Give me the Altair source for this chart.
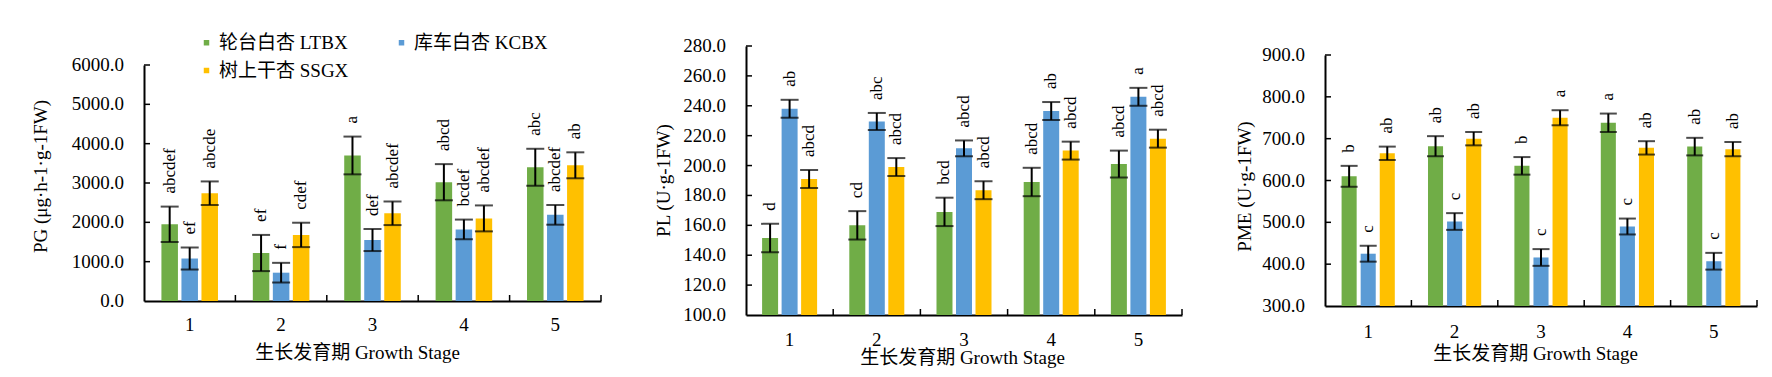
import altair as alt
import pandas as pd

# ---------------- data ----------------
stages = ["1", "2", "3", "4", "5"]
series = ["轮台白杏 LTBX", "库车白杏 KCBX", "树上干杏 SSGX"]
colors = ["#70AD47", "#5B9BD5", "#FFC000"]

# PG (μg·h-1·g-1FW)
pg_ltbx = [1950, 1220, 3700, 3020, 3400]
pg_kcbx = [1080, 720, 1550, 1820, 2190]
pg_ssgx = [2740, 1680, 2230, 2100, 3450]
pg_ltbx_err = [450, 460, 480, 460, 470]
pg_kcbx_err = [280, 250, 280, 250, 250]
pg_ssgx_err = [300, 310, 300, 330, 330]
pg_ltbx_sig = ["abcdef", "ef", "a", "abcd", "abc"]
pg_kcbx_sig = ["ef", "f", "def", "bcdef", "abcdef"]
pg_ssgx_sig = ["abcde", "cdef", "abcdef", "abcdef", "ab"]
pg_ticks = [0, 1000, 2000, 3000, 4000, 5000, 6000]

# PL (U·g-1FW)
pl_ltbx = [151.5, 160, 169, 189, 201]
pl_kcbx = [238, 229.5, 211.5, 236.5, 246]
pl_ssgx = [191, 199, 183.5, 210, 218]
pl_ltbx_err = [9.5, 9.5, 9.5, 9.5, 9]
pl_kcbx_err = [6, 5.7, 5.3, 6, 6]
pl_ssgx_err = [6, 6, 6, 6, 6]
pl_ltbx_sig = ["d", "cd", "bcd", "abcd", "abcd"]
pl_kcbx_sig = ["ab", "abc", "abcd", "ab", "a"]
pl_ssgx_sig = ["abcd", "abcd", "abcd", "abcd", "abcd"]
pl_ticks = [100, 120, 140, 160, 180, 200, 220, 240, 260, 280]

# PME (U·g-1FW)
pme_ltbx = [610, 682, 635, 738, 681]
pme_kcbx = [425, 502, 416, 490, 407]
pme_ssgx = [665, 700, 750, 678, 675]
pme_ltbx_err = [25, 24, 21, 22, 21]
pme_kcbx_err = [19, 20, 20, 19, 20]
pme_ssgx_err = [16, 16, 18, 16, 17]
pme_ltbx_sig = ["b", "ab", "b", "a", "ab"]
pme_kcbx_sig = ["c", "c", "c", "c", "c"]
pme_ssgx_sig = ["ab", "ab", "a", "ab", "ab"]
pme_ticks = [300, 400, 500, 600, 700, 800, 900]

x_title = "生长发育期  Growth Stage"
SERIF = "Times New Roman, Liberation Serif, Noto Sans CJK SC"
H = 269  # common plot-area height; each y scale uses its own pixel range inside it


def make_df(means, errs, sigs):
    rows = []
    for s, m, e, g in zip(series, means, errs, sigs):
        for st, mv, ev, gv in zip(stages, m, e, g):
            rows.append({"stage": st, "series": s, "mean": mv,
                         "lo": mv - ev, "hi": mv + ev, "sig": gv})
    return pd.DataFrame(rows)


def panel(df, ticks, ytitle, W, yrange, pin, pout, cap, ytx, yty, xtx, xty, xlp,
          legend=None):
    ymin, ymax = ticks[0], ticks[-1]
    xoff = yrange[0] - H
    xscale = alt.Scale(paddingInner=0, paddingOuter=0)
    xaxis = alt.Axis(title=x_title, labelAngle=0, ticks=False, tickSize=0,
                     domainColor="black", domainWidth=2, offset=xoff,
                     labelFont=SERIF, labelFontSize=19, labelColor="black",
                     labelPadding=xlp,
                     titleFont=SERIF, titleFontSize=19, titleColor="black",
                     titleFontWeight="normal", titleX=xtx, titleY=xty,
                     titleBaseline="middle", titleAlign="center")
    yaxis = alt.Axis(title=ytitle, values=ticks, labels=False, ticks=False, tickSize=0,
                     grid=False, domainColor="black", domainWidth=2,
                     titleFont=SERIF, titleFontSize=19, titleColor="black",
                     titleFontWeight="normal", titleX=ytx, titleY=yty,
                     titleAngle=270, titleBaseline="middle", titleAlign="center")
    yscale = alt.Scale(domain=[ymin, ymax], nice=False, zero=False, range=yrange)
    xo = alt.XOffset("series:N", sort=series,
                     scale=alt.Scale(domain=series, paddingInner=pin, paddingOuter=pout))
    X = alt.X("stage:N", sort=stages, scale=xscale, axis=xaxis)

    color_kw = dict(scale=alt.Scale(domain=series, range=colors), sort=series, title=None)
    if legend is None:
        color = alt.Color("series:N", legend=None, **color_kw)
    else:
        color = alt.Color("series:N", legend=legend, **color_kw)

    base = alt.Chart(df)
    bars = base.mark_bar().encode(
        x=X, xOffset=xo,
        y=alt.Y("mean:Q", scale=yscale, axis=yaxis),
        y2=alt.Y2Datum(ymin),
        color=color,
    )
    err = base.mark_rule(color="black", strokeWidth=2).encode(
        x=X, xOffset=xo, y=alt.Y("lo:Q", axis=yaxis), y2="hi:Q")
    cap_hi = base.mark_tick(color="black", orient="horizontal", size=cap,
                            thickness=2).encode(x=X, xOffset=xo, y=alt.Y("hi:Q", axis=yaxis))
    cap_lo = base.mark_tick(color="black", orient="horizontal", size=cap,
                            thickness=2).encode(x=X, xOffset=xo, y=alt.Y("lo:Q", axis=yaxis))
    txt = base.mark_text(angle=270, align="left", baseline="middle", dx=13,
                         font=SERIF, fontSize=17, color="black").encode(
        x=X, xOffset=xo, y=alt.Y("hi:Q", axis=yaxis), text="sig:N")

    # y tick marks (drawn inside the axis) and y tick labels, from the tick values
    tick_df = pd.DataFrame({"v": ticks})
    yticks = alt.Chart(tick_df).transform_filter(
        alt.datum.v > ymin
    ).mark_rule(color="black", strokeWidth=1.5).encode(
        y=alt.Y("v:Q", axis=yaxis), x=alt.value(0), x2=alt.value(6))
    ylabels = alt.Chart(tick_df).mark_text(
        align="right", baseline="middle", dx=-20, font=SERIF, fontSize=19,
        color="black").encode(
        y=alt.Y("v:Q", axis=yaxis), x=alt.value(0),
        text=alt.Text("v:Q", format=".1f"))
    stage_df = pd.DataFrame({"stage": stages})
    xticks = alt.Chart(stage_df).mark_rule(color="black", strokeWidth=1.5,
                                           y2Offset=-6).encode(
        x=alt.X("stage:N", sort=stages, bandPosition=1, axis=xaxis),
        y=alt.datum(ymin), y2=alt.datum(ymin))

    return alt.layer(bars, err, cap_hi, cap_lo, txt, yticks, ylabels, xticks).properties(
        width=W, height=H)


pg_df = make_df([pg_ltbx, pg_kcbx, pg_ssgx], [pg_ltbx_err, pg_kcbx_err, pg_ssgx_err],
                [pg_ltbx_sig, pg_kcbx_sig, pg_ssgx_sig])
pl_df = make_df([pl_ltbx, pl_kcbx, pl_ssgx], [pl_ltbx_err, pl_kcbx_err, pl_ssgx_err],
                [pl_ltbx_sig, pl_kcbx_sig, pl_ssgx_sig])
pme_df = make_df([pme_ltbx, pme_kcbx, pme_ssgx], [pme_ltbx_err, pme_kcbx_err, pme_ssgx_err],
                 [pme_ltbx_sig, pme_kcbx_sig, pme_ssgx_sig])

legend = alt.Legend(orient="none", legendX=53, legendY=-13, direction="horizontal",
                    columns=2, symbolType="square", symbolSize=30, symbolStrokeWidth=0,
                    labelFont=SERIF, labelFontSize=19, labelColor="black", labelOffset=3,
                    columnPadding=43, rowPadding=8, padding=0, labelLimit=300)

left = panel(pg_df, pg_ticks, "PG (μg·h-1·g-1FW)", 457, [255, 19], 0.175, 0.87, 18,
             -104, 130, 213, 51, 14, legend=legend)
mid = panel(pl_df, pl_ticks, "PL (U·g-1FW)", 436, [269, 0], 0.18, 0.825, 18,
            -83, 134, 216, 42, 15)
right = panel(pme_df, pme_ticks, "PME (U·g-1FW)", 432, [260, 9], 0.21, 0.87, 17,
              -81, 140, 210, 47, 16)

chart = alt.hconcat(left, mid, right, spacing=52).resolve_scale(
    color="independent", x="independent", y="independent", xOffset="independent"
).configure_view(strokeWidth=0).properties(
    padding={"left": 31, "top": 33, "right": 5, "bottom": 5},
    background="white",
)

chart.save("out.html", embed_options={"renderer": "svg", "actions": False})
